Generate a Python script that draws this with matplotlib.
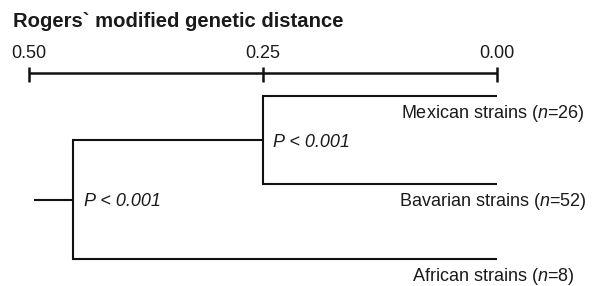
import matplotlib
matplotlib.use("Agg")
import matplotlib.pyplot as plt

# Data
leaves = ["Mexican strains", "Bavarian strains", "African strains"]
leaf_n = [26, 52, 8]
node_inner = 0.25      # Mexican + Bavarian join height
node_root = 0.453      # root join height
root_stem = 0.495
inner_p = "P < 0.001"
root_p = "P < 0.001"
scale_ticks = [0.50, 0.25, 0.00]
scale_labels = ["0.50", "0.25", "0.00"]
title = "Rogers` modified genetic distance"

plt.rcParams['font.family'] = ['Liberation Sans', 'DejaVu Sans']
plt.rcParams['mathtext.fontset'] = 'custom'
plt.rcParams['mathtext.rm'] = 'Liberation Sans'
plt.rcParams['mathtext.it'] = 'Liberation Sans:italic'

W, H = 599, 286
fig = plt.figure(figsize=(W / 100, H / 100), dpi=100)
ax = fig.add_axes([0, 0, 1, 1])
px_per_unit = 936.0
x0_pix = 497.0
ax.set_xlim(x0_pix / px_per_unit, (x0_pix - W) / px_per_unit)
ax.set_ylim(H, 0)
ax.axis('off')


def px(xp):
    """pixel column -> data x"""
    return (x0_pix - xp) / px_per_unit


lw = 1.5
c = '#111111'
tc = '#1a1a1a'

# Layout (vertical positions in pixels)
leaf_y = [96, 184, 259]
scale_y = 72.5

# Scale bar
ax.plot([scale_ticks[0], scale_ticks[-1]], [scale_y, scale_y], color=c, lw=1.8, solid_capstyle='butt')
for t, lab in zip(scale_ticks, scale_labels):
    ax.plot([t, t], [67, 82], color=c, lw=1.8, solid_capstyle='butt')
    ax.text(t, 58, lab, ha='center', va='baseline', fontsize=13, color=tc)

ax.text(px(13), 27, title, ha='left', va='baseline', fontsize=14.6, fontweight='bold', color=tc)

# Tree
inner_y = (leaf_y[0] + leaf_y[1]) / 2
root_y = (inner_y + leaf_y[2]) / 2
for y in leaf_y[:2]:
    ax.plot([node_inner, 0.0], [y, y], color=c, lw=lw, solid_capstyle='butt')
ax.plot([node_inner, node_inner], [leaf_y[0], leaf_y[1]], color=c, lw=lw)
ax.plot([node_root, node_inner], [inner_y, inner_y], color=c, lw=lw, solid_capstyle='butt')
ax.plot([node_root, 0.0], [leaf_y[2], leaf_y[2]], color=c, lw=lw, solid_capstyle='butt')
ax.plot([node_root, node_root], [inner_y, leaf_y[2]], color=c, lw=lw)
ax.plot([root_stem, node_root], [root_y, root_y], color=c, lw=lw, solid_capstyle='butt')

# P-values
ax.text(px(273), inner_y + 7, inner_p, style='italic', ha='left', va='baseline', fontsize=13, color=tc)
ax.text(px(84), root_y + 7, root_p, style='italic', ha='left', va='baseline', fontsize=13, color=tc)

# Leaf labels
for y, name, n in zip(leaf_y, leaves, leaf_n):
    ax.text(px(493), y + 22, f"{name} ($\\it{{n}}$={n})", ha='center', va='baseline',
            fontsize=13, color=tc)

fig.savefig("out.png", dpi=100)
